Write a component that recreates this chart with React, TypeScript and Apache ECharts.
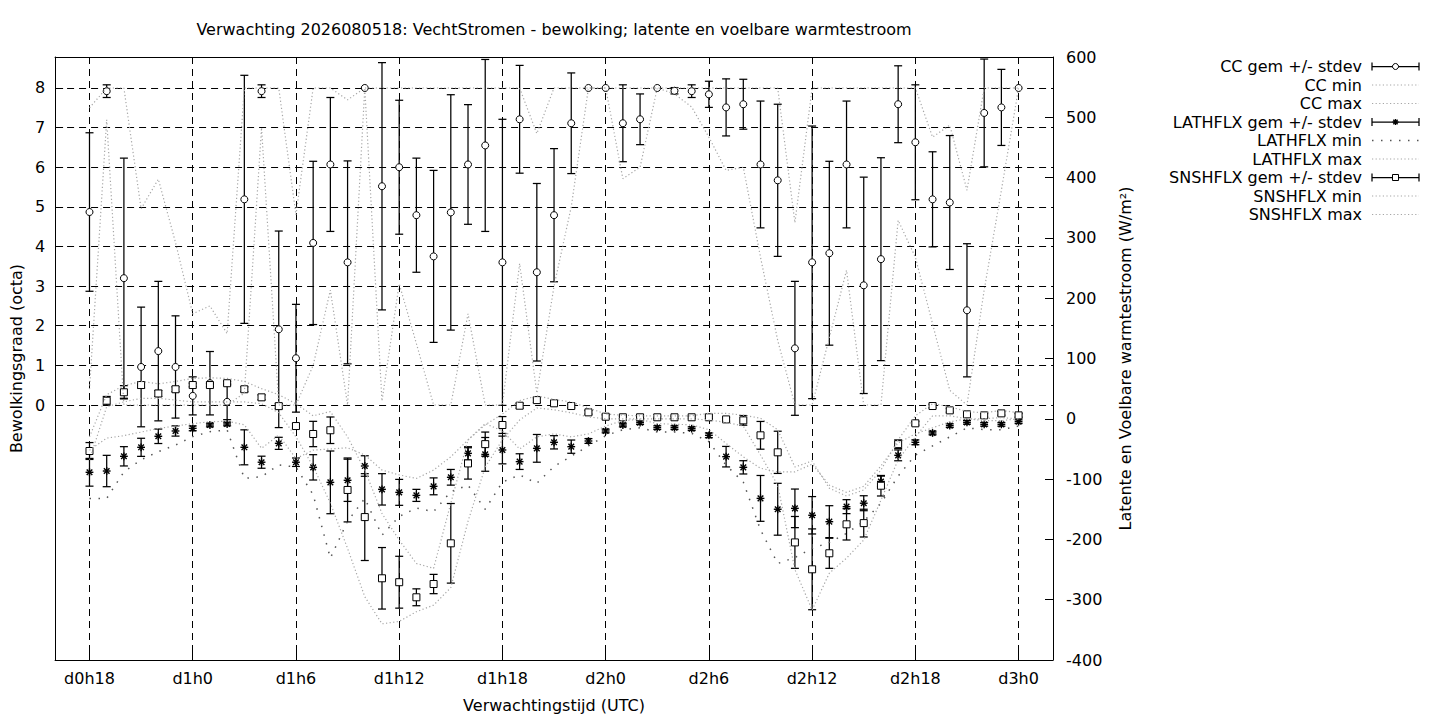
import React, { useEffect, useRef } from "react";
import * as echarts from "echarts";

const hours = [18, 19, 20, 21, 22, 23, 24, 25, 26, 27, 28, 29, 30, 31, 32, 33, 34, 35, 36, 37, 38, 39, 40, 41, 42, 43, 44, 45, 46, 47, 48, 49, 50, 51, 52, 53, 54, 55, 56, 57, 58, 59, 60, 61, 62, 63, 64, 65, 66, 67, 68, 69, 70, 71, 72];
const tickHours = [18, 24, 30, 36, 42, 48, 54, 60, 66, 72];
const tickLabels = ["d0h18", "d1h0", "d1h6", "d1h12", "d1h18", "d2h0", "d2h6", "d2h12", "d2h18", "d3h0"];
const leftTicks = [0, 1, 2, 3, 4, 5, 6, 7, 8];

const seriesNames = [
  "CC gem +/- stdev", "CC min", "CC max",
  "LATHFLX gem +/- stdev", "LATHFLX min", "LATHFLX max",
  "SNSHFLX gem +/- stdev", "SNSHFLX min", "SNSHFLX max",
];

const ccMean = [4.87, 7.92, 3.2, 0.96, 1.36, 0.96, 0.23, 0.55, 0.08, 5.19, 7.92, 1.91, 1.18, 4.09, 6.07, 3.6, 8.0, 5.52, 6.0, 4.79, 3.75, 4.86, 6.07, 6.55, 3.6, 7.21, 3.35, 4.79, 7.11, 8.0, 8.0, 7.11, 7.21, 8.0, 7.93, 7.92, 7.84, 7.51, 7.59, 6.07, 5.67, 1.43, 3.6, 3.83, 6.07, 3.02, 3.68, 7.59, 6.63, 5.19, 5.11, 2.39, 7.37, 7.51, 8.0];
const ccSd = [2.0, 0.16, 3.03, 1.51, 1.76, 1.29, 0.48, 0.8, 0.45, 3.13, 0.16, 2.48, 1.36, 2.06, 1.69, 2.56, 0, 3.12, 1.69, 1.44, 2.17, 2.97, 1.51, 2.17, 3.61, 1.36, 2.24, 1.68, 1.27, 0, 0, 0.97, 0.64, 0, 0.08, 0.16, 0.33, 0.72, 0.63, 1.6, 1.92, 1.69, 3.44, 2.32, 1.6, 2.73, 2.56, 0.97, 1.45, 1.2, 1.69, 1.68, 1.36, 0.96, 0];
const ccMin = [0.4, 7.2, 0, 0, 0, 0, 0, 0, 0, 0.3, 7.0, 0, 0, 1.0, 2.9, 0, 8, 0.1, 3.06, 1.55, 0, 0, 2.3, 0, 0, 3.57, 0.3, 3.0, 5.0, 8, 8, 5.71, 6.0, 8, 7.85, 7.52, 6.76, 5.92, 6.0, 3.73, 1.63, 0, 0, 1.7, 3.4, 0, 0, 4.66, 3.73, 2.05, 0.37, 0, 2.9, 5.42, 8];
const ccMax = [7.5, 8, 8, 4.95, 5.7, 4.1, 2.3, 2.5, 1.8, 8, 8, 8, 4.8, 8, 8, 7.7, 8, 8, 8, 8, 8, 8, 8, 8, 8, 8, 6.85, 8, 8, 8, 8, 8, 8, 8, 8, 8, 8, 8, 8, 8, 8, 4.6, 8, 8, 8, 8, 8, 8, 8, 6.76, 7.06, 5.42, 8, 8, 8];

const lathMean = [-88.7, -86.6, -62.2, -47.3, -29, -20.2, -15.8, -10.3, -8.6, -47.3, -72, -40.7, -72, -80.5, -105.4, -102, -78.3, -117, -122, -127, -112, -97, -57.3, -59, -51.7, -71, -49, -39, -46.2, -36.8, -20.2, -10.3, -6.4, -14.7, -14.7, -16.4, -27.4, -62.8, -80.5, -132, -150, -148.5, -160, -170.6, -145.7, -140, -104, -60.6, -39, -23.5, -11.4, -5.9, -9.2, -9.2, -4.8];
const lathSd = [23, 26, 16, 15, 12, 8.5, 4, 3, 3, 29, 10, 10, 7, 21, 52, 35, 17, 26, 21.5, 10, 14, 13, 11, 28, 23, 13, 23, 11, 11, 4, 3, 3, 3, 3, 3, 3, 4, 17, 11, 38, 43, 32, 31, 26.5, 11.6, 12.4, 9, 9, 4, 3, 3, 3, 3, 3, 3];
const lathMin = [-132, -132, -88, -68, -54.5, -43.5, -29.6, -21.4, -18.6, -98.7, -96, -76.6, -80, -126, -231, -170, -132, -193, -162, -148, -154, -121, -110, -150, -105, -93, -107, -79, -62, -45, -28, -18, -15, -22, -22, -24, -38, -77, -105, -184, -240, -230, -215, -205, -190, -170, -140, -95, -60, -45, -30, -15, -18, -18, -12];
const lathMax = [-52, -32, -28, -22, -16, -12, -8, -5, -4, -10, -49, -27, -66, -52, -50, -48, -60, -85, -93, -99, -85, -63, -35, -8, -20, -50, -30, -25, -30, -25, -12, -3, -1, -8, -9, -10, -18, -41, -63, -82, -88, -88, -75, -110, -122, -112, -78, -40, -25, -15, -5, 0, -3, -3, 0];

const snsMean = [-53.4, 30, 44, 56, 42, 49, 56, 56, 59, 49, 35.6, 21, -12, -25.2, -19, -118, -163, -264.5, -271, -296, -274, -206.5, -74, -42, -10.3, 21.7, 31, 25.7, 21.2, 10.7, 3.5, 2.5, 2.5, 2.5, 2.5, 2.5, 2.5, -1, -2.6, -27.4, -55.6, -205, -249.6, -223, -175, -173, -111, -42, -7.5, 21.2, 14, 7.4, 5.7, 9, 5.7];
const snsSd = [14, 7, 11, 5, 5, 4, 3, 3, 3, 4, 4, 4, 4, 21, 22, 53, 72, 51, 43, 14, 16, 66, 26, 20, 14, 4, 4, 3, 3, 3, 3, 2, 2, 2, 2, 2, 2, 3, 8, 23, 35, 43, 67, 25, 26, 23, 17, 7, 3, 3, 3, 3, 3, 3, 3];
const snsMin = [-68, 20, 28, 34, 34, 31, 28, 28, 28, 28, 25, 10, -30, -79, -140, -215, -295, -340, -336, -320, -309, -280, -170, -80, -35, -2, 18, 15, 10, 3, 0, 0, 0, 0, 0, 0, -2, -6, -12, -60, -110, -250, -317, -256, -231, -201, -135, -68, -30, 5, 5, 0, 0, 2, 0];
const snsMax = [-30, 40, 55, 62, 58, 62, 67, 68, 67, 62, 50, 40, 25, 5, 12, -30, -85, -157, -201, -240, -248, -140, -35, -10, 8, 30, 38, 32, 28, 18, 8, 6, 5, 5, 5, 5, 9, 9, 6, 1, -18, -80, -70, -115, -128, -118, -85, -35, 5, 25, 20, 12, 10, 14, 10];

const titleText = "Verwachting 2026080518: VechtStromen - bewolking; latente en voelbare warmtestroom";
const xName = "Verwachtingstijd (UTC)";
const yLeftName = "Bewolkingsgraad (octa)";
const yRightName = "Latente en Voelbare warmtestroom (W/m²)";

const FONT = '"DejaVu Sans", "Liberation Sans", sans-serif';
const FS = 16;
const LIGHT = { color: "#a6a6a6", width: 1.2, type: [1.2, 2.4] as number[] };
const DARK = { color: "#555555", width: 1.5, type: [1.5, 7.5] as number[] };

type Kind = "circle" | "square" | "star";

function marker(kind: Kind, cx: number, cy: number, r: number): any[] {
  const st = { fill: "#fff", stroke: "#000", lineWidth: 1 };
  if (kind === "circle") return [{ type: "circle", shape: { cx, cy, r }, style: st }];
  if (kind === "square")
    return [{ type: "rect", shape: { x: cx - r, y: cy - r, width: 2 * r, height: 2 * r }, style: st }];
  const d = r * 0.72;
  const ls = { stroke: "#000", lineWidth: 1.4 };
  return [
    { type: "line", shape: { x1: cx - r, y1: cy, x2: cx + r, y2: cy }, style: ls },
    { type: "line", shape: { x1: cx, y1: cy - r, x2: cx, y2: cy + r }, style: ls },
    { type: "line", shape: { x1: cx - d, y1: cy - d, x2: cx + d, y2: cy + d }, style: ls },
    { type: "line", shape: { x1: cx - d, y1: cy + d, x2: cx + d, y2: cy - d }, style: ls },
  ];
}

function errSeries(name: string, kind: Kind, yAxisIndex: number, mean: number[], sd: number[]) {
  return {
    type: "custom",
    name,
    xAxisIndex: 0,
    yAxisIndex,
    clip: true,
    silent: true,
    encode: { x: 0, y: 1 },
    data: hours.map((h, i) => [h, mean[i], sd[i]]),
    renderItem: (_params: any, api: any) => {
      const x = api.value(0);
      const m = api.value(1);
      const s = api.value(2);
      const p = api.coord([x, m]);
      const children: any[] = [];
      const ls = { stroke: "#000", lineWidth: 1.25 };
      if (s > 0) {
        const t = api.coord([x, m + s]);
        const b = api.coord([x, m - s]);
        children.push({ type: "line", shape: { x1: p[0], y1: t[1], x2: p[0], y2: b[1] }, style: ls });
        children.push({ type: "line", shape: { x1: p[0] - 4, y1: t[1], x2: p[0] + 4, y2: t[1] }, style: ls });
        children.push({ type: "line", shape: { x1: p[0] - 4, y1: b[1], x2: p[0] + 4, y2: b[1] }, style: ls });
      }
      children.push(...marker(kind, p[0], p[1], kind === "star" ? 3.9 : 3.5));
      return { type: "group", children };
    },
  };
}

function lineSeries(name: string, yAxisIndex: number, values: number[], style: any) {
  return {
    type: "line",
    name,
    xAxisIndex: 0,
    yAxisIndex,
    silent: true,
    symbol: "none",
    data: hours.map((h, i) => [h, values[i]]),
    lineStyle: { color: style.color, width: style.width, type: style.type },
  };
}

const GRID = { left: 55, top: 57, right: 387, bottom: 60 };

function legendGraphics(): any[] {
  const kinds: (Kind | "light" | "dark")[] = ["circle", "light", "light", "star", "dark", "light", "square", "light", "light"];
  const out: any[] = [];
  const x0 = 1372;
  const x1 = 1419;
  seriesNames.forEach((nm, i) => {
    const y = 66.5 + i * 18.5;
    out.push({
      type: "text",
      x: 1362,
      y,
      style: {
        text: nm,
        fill: "#000",
        fontSize: FS,
        fontFamily: FONT,
        textAlign: "right",
        textVerticalAlign: "middle",
        align: "right",
        verticalAlign: "middle",
      },
    });
    const k = kinds[i];
    if (k === "light" || k === "dark") {
      const st = k === "light" ? LIGHT : DARK;
      out.push({
        type: "line",
        shape: { x1: x0, y1: y, x2: x1, y2: y },
        style: { stroke: st.color, lineWidth: st.width, lineDash: st.type },
      });
    } else {
      const ls = { stroke: "#000", lineWidth: 1.25 };
      out.push({ type: "line", shape: { x1: x0, y1: y, x2: x1, y2: y }, style: ls });
      out.push({ type: "line", shape: { x1: x0, y1: y - 4, x2: x0, y2: y + 4 }, style: ls });
      out.push({ type: "line", shape: { x1: x1, y1: y - 4, x2: x1, y2: y + 4 }, style: ls });
      marker(k, (x0 + x1) / 2, y, 3).forEach((e) => out.push(e));
    }
  });
  return out;
}

export default function App() {
  const ref = useRef<HTMLDivElement>(null);
  useEffect(() => {
    if (!ref.current) return;
    const chart = echarts.init(ref.current, null, { renderer: "svg" });
    const dash = [7, 5];
    const textStyle = { color: "#000", fontSize: FS, fontFamily: FONT };
    chart.setOption({
      animation: false,
      backgroundColor: "#ffffff",
      textStyle: { fontFamily: FONT },
      grid: { ...GRID },
      xAxis: [
        {
          type: "value",
          position: "bottom",
          min: 16,
          max: 74,
          name: xName,
          nameLocation: "middle",
          nameGap: 37,
          nameTextStyle: textStyle,
          axisLine: { show: true, onZero: false, lineStyle: { color: "#000", width: 1 } },
          axisTick: { show: true, inside: true, length: 8, customValues: tickHours, lineStyle: { color: "#000" } },
          axisLabel: {
            show: true,
            margin: 10,
            customValues: tickHours,
            formatter: (v: number) => tickLabels[tickHours.indexOf(v)] ?? "",
            ...textStyle,
          },
          splitLine: { show: true, lineStyle: { color: "#000", width: 1, type: dash } },
        },
        {
          type: "value",
          position: "top",
          min: 16,
          max: 74,
          axisLine: { show: true, onZero: false, lineStyle: { color: "#000", width: 1 } },
          axisTick: { show: false },
          axisLabel: { show: false },
          splitLine: { show: false },
        },
      ],
      yAxis: [
        {
          type: "value",
          position: "left",
          min: -6.435,
          max: 8.782,
          name: yLeftName,
          nameLocation: "middle",
          nameGap: 29,
          nameTextStyle: textStyle,
          axisLine: { show: true, onZero: false, lineStyle: { color: "#000", width: 1 } },
          axisTick: { show: true, inside: true, length: 8, customValues: leftTicks, lineStyle: { color: "#000" } },
          axisLabel: { show: true, margin: 10, customValues: leftTicks, ...textStyle },
          splitLine: { show: true, lineStyle: { color: "#000", width: 1, type: dash } },
        },
        {
          type: "value",
          position: "right",
          min: -400,
          max: 600,
          interval: 100,
          name: yRightName,
          nameLocation: "middle",
          nameGap: 64,
          nameTextStyle: textStyle,
          axisLine: { show: true, onZero: false, lineStyle: { color: "#000", width: 1 } },
          axisTick: { show: true, inside: true, length: 8, lineStyle: { color: "#000" } },
          axisLabel: { show: true, margin: 13, ...textStyle },
          splitLine: { show: false },
        },
      ],
      graphic: [
        {
          type: "text",
          x: 554,
          y: 29,
          style: {
            text: titleText,
            fill: "#000",
            fontSize: FS,
            fontFamily: FONT,
            textAlign: "center",
            textVerticalAlign: "middle",
            align: "center",
            verticalAlign: "middle",
          },
        },
        ...legendGraphics(),
      ],
      series: [
        errSeries(seriesNames[0], "circle", 0, ccMean, ccSd),
        lineSeries(seriesNames[1], 0, ccMin, LIGHT),
        lineSeries(seriesNames[2], 0, ccMax, LIGHT),
        errSeries(seriesNames[3], "star", 1, lathMean, lathSd),
        lineSeries(seriesNames[4], 1, lathMin, DARK),
        lineSeries(seriesNames[5], 1, lathMax, LIGHT),
        errSeries(seriesNames[6], "square", 1, snsMean, snsSd),
        lineSeries(seriesNames[7], 1, snsMin, LIGHT),
        lineSeries(seriesNames[8], 1, snsMax, LIGHT),
      ],
    });
    return () => chart.dispose();
  }, []);
  return (
    <div
      ref={ref}
      style={{ position: "absolute", left: 0, top: 0, width: 1440, height: 720, background: "#fff" }}
    />
  );
}
